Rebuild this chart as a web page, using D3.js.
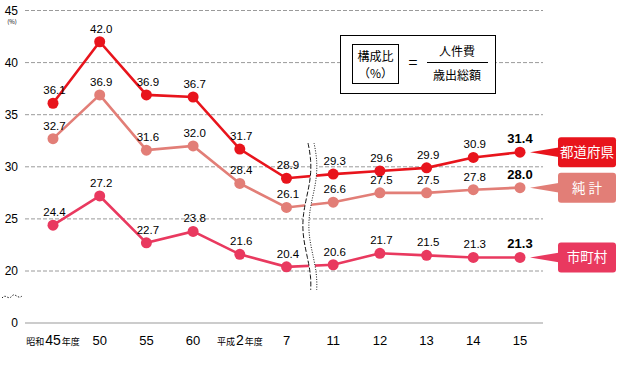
<!DOCTYPE html>
<html><head><meta charset="utf-8">
<script src="https://cdn.jsdelivr.net/npm/d3@7"></script>
<style>
body{margin:0;background:#fff;}
svg{display:block;font-family:"Liberation Sans",Arial,sans-serif;}
.jp{font-family:"Noto Sans CJK JP","Liberation Sans",sans-serif;}
</style></head><body>
<svg id="c" width="617" height="380"></svg>
<script>
const categories = ["昭和45年度","50","55","60","平成2年度","7","11","12","13","14","15"];
const prefectures = [36.1,42.0,36.9,36.7,31.7,28.9,29.3,29.6,29.9,30.9,31.4];
const total = [32.7,36.9,31.6,32.0,28.4,26.1,26.6,27.5,27.5,27.8,28.0];
const municipalities = [24.4,27.2,22.7,23.8,21.6,20.4,20.6,21.7,21.5,21.3,21.3];
const yTicks = [20,25,30,35,40,45];
const seriesNames = ["都道府県","純 計","市町村"];
const seriesColors = ["#e8141c","#e27e77","#e9395f"];

const svg = d3.select("#c");
const x = d3.scalePoint().domain(categories).range([53,520]);
const y = d3.scaleLinear().domain([20,45]).range([271,10.5]);
const yZero = 323;
const gx0 = 25, gx1 = 543;

// gridlines
svg.append("g").selectAll("line").data(yTicks).join("line")
  .attr("x1",gx0).attr("x2",gx1).attr("y1",d=>y(d)).attr("y2",d=>y(d))
  .attr("stroke","#9a9a9a").attr("stroke-width",1).attr("stroke-dasharray","4,2");
// zero axis
svg.append("line").attr("x1",gx0).attr("x2",gx1).attr("y1",yZero).attr("y2",yZero)
  .attr("stroke","#9a9a9a").attr("stroke-width",1.2);

// y tick labels
const yl = svg.append("g").attr("font-size",12).attr("fill","#000").attr("text-anchor","end");
yTicks.forEach(t=>yl.append("text").attr("x",18).attr("y",y(t)+4).text(t));
yl.append("text").attr("x",18).attr("y",yZero+4).text("0");
svg.append("text").attr("class","jp").attr("x",12).attr("y",24).attr("font-size",6)
  .attr("text-anchor","middle").text("(%)");
// y axis break mark
svg.append("path").attr("d",(()=>{const p=d3.path();p.moveTo(2,298);p.bezierCurveTo(6,293,8,301,12,296);p.bezierCurveTo(15,292,18,300,22,296);return p.toString();})())
  .attr("fill","none").attr("stroke","#222").attr("stroke-width",1).attr("stroke-dasharray","1.5,1.5");

// x labels
const xl = svg.append("g");
categories.forEach(c=>{
  const t = xl.append("text").attr("x",x(c)).attr("y",345).attr("text-anchor","middle").attr("font-size",13);
  const m = c.match(/^(昭和|平成)(\d+)(年度)$/);
  if(m){
    t.append("tspan").attr("class","jp").attr("font-size",9).text(m[1]);
    t.append("tspan").attr("font-size",14).attr("dx",1).text(m[2]);
    t.append("tspan").attr("class","jp").attr("font-size",9).attr("dx",1).text(m[3]);
  } else t.text(c);
});

// series
const data = [prefectures,total,municipalities];
const line = d3.line().x((d,i)=>x(categories[i])).y(d=>y(d));
[2,1,0].forEach(k=>{
  svg.append("path").datum(data[k]).attr("d",line).attr("fill","none")
    .attr("stroke",seriesColors[k]).attr("stroke-width",2.6);
});

// break symbol on chart
const bx = (x(categories[5])+x(categories[6]))/2;
const wave = d3.range(0,1.0001,0.02).map(t=>[bx+4*Math.sin(t*Math.PI*2.5+0.3), 143+t*147]);
const wl = d3.line().curve(d3.curveBasis);
svg.append("path").attr("d",wl(wave)).attr("fill","none").attr("stroke","#fff").attr("stroke-width",6);
svg.append("path").attr("d",wl(wave.map(p=>[p[0]-3,p[1]]))).attr("fill","none").attr("stroke","#111").attr("stroke-width",1).attr("stroke-dasharray","5,2");
svg.append("path").attr("d",wl(wave.map(p=>[p[0]+3,p[1]]))).attr("fill","none").attr("stroke","#111").attr("stroke-width",1).attr("stroke-dasharray","1,1.5");

// points and labels
[2,1,0].forEach(k=>{
  const g = svg.append("g");
  g.selectAll("circle").data(data[k]).join("circle")
    .attr("cx",(d,i)=>x(categories[i])).attr("cy",d=>y(d)).attr("r",5.5).attr("fill",seriesColors[k]);
});
[0,1,2].forEach(k=>{
  svg.append("g").selectAll("text").data(data[k]).join("text")
    .attr("x",(d,i)=>x(categories[i])+(i===categories.length-1?0:1.5))
    .attr("y",d=>y(d)-9)
    .attr("text-anchor","middle")
    .attr("font-size",(d,i)=>i===categories.length-1?13:11.5)
    .attr("font-weight",(d,i)=>i===categories.length-1?"bold":"normal")
    .attr("fill","#000")
    .text(d=>d.toFixed(1));
});

// series tags
data.forEach((s,k)=>{
  const last = s[s.length-1];
  const cy = y(last);
  const g = svg.append("g");
  g.append("path").attr("d",`M530,${cy} L560,${cy-5} L560,${cy+5} Z`).attr("fill",seriesColors[k]);
  g.append("rect").attr("x",558).attr("y",cy-15).attr("width",58).attr("height",30).attr("rx",3)
    .attr("fill",seriesColors[k]);
  g.append("text").attr("class","jp").attr("x",587).attr("y",cy+5).attr("text-anchor","middle")
    .attr("font-size",13.5).attr("fill","#fff").text(seriesNames[k]);
});

// formula box
const fb = svg.append("g").attr("class","jp").attr("font-size",12);
fb.append("rect").attr("x",340.5).attr("y",35.5).attr("width",155).attr("height",58).attr("fill","#fff").attr("stroke","#000");
fb.append("rect").attr("x",352.5).attr("y",44.5).attr("width",46).attr("height",39).attr("fill","#fff").attr("stroke","#000");
fb.append("text").attr("x",375.5).attr("y",61).attr("text-anchor","middle").text("構成比");
fb.append("text").attr("x",375.5).attr("y",78).attr("text-anchor","middle").text("（%）");
fb.append("text").attr("x",413).attr("y",68).attr("text-anchor","middle").attr("font-size",16).text("=");
fb.append("text").attr("x",457).attr("y",56).attr("text-anchor","middle").text("人件費");
fb.append("line").attr("x1",427).attr("x2",488).attr("y1",62.5).attr("y2",62.5).attr("stroke","#000");
fb.append("text").attr("x",457).attr("y",80).attr("text-anchor","middle").text("歳出総額");
</script></body></html>
